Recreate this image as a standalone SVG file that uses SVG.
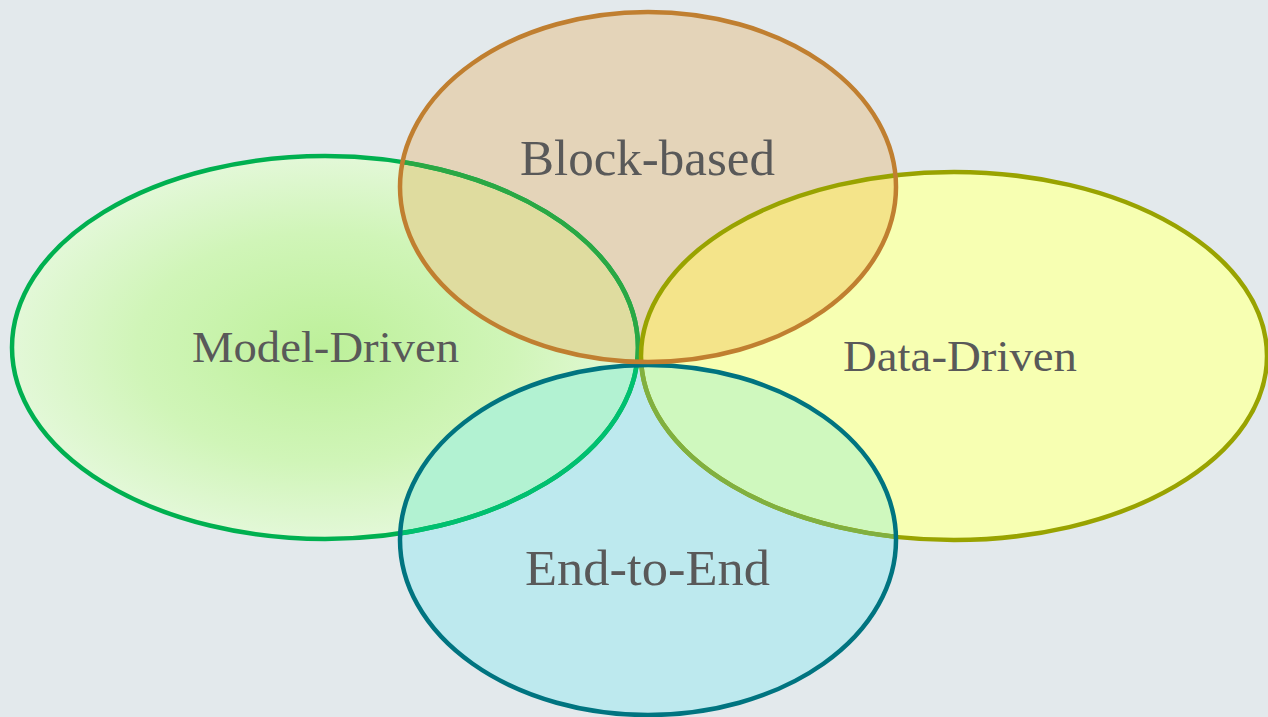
<svg xmlns="http://www.w3.org/2000/svg" xmlns:xlink="http://www.w3.org/1999/xlink" width="1268" height="717" viewBox="0 0 1268 717">
  <style>
    .lbl { font-family: "Liberation Serif", "Times New Roman", serif; fill: #595959; text-anchor: middle; }
    .big { font-size: 50px; }
    .small { font-size: 45px; }
    .ol { fill: none; stroke-width: 4.5; }
  </style>
  <defs>
    <radialGradient id="gModel" cx="0.5" cy="0.5" r="0.5">
      <stop offset="0" stop-color="#bdf09a"/>
      <stop offset="0.6" stop-color="#d0f5b8"/>
      <stop offset="1" stop-color="#e3f8d8"/>
    </radialGradient>
    <ellipse id="eModel" cx="325" cy="347.5" rx="313" ry="191.5"/>
    <ellipse id="eData" cx="954" cy="356" rx="313" ry="184"/>
    <ellipse id="eBlock" cx="648" cy="187" rx="248" ry="175"/>
    <ellipse id="eEnd" cx="648" cy="540" rx="248" ry="175"/>
    <clipPath id="cModel"><use xlink:href="#eModel"/></clipPath>
    <clipPath id="cData"><use xlink:href="#eData"/></clipPath>
    <clipPath id="cBlock"><use xlink:href="#eBlock"/></clipPath>
    <clipPath id="cEnd"><use xlink:href="#eEnd"/></clipPath>
  </defs>

  <rect x="0" y="0" width="1268" height="717" fill="#e3e9ec"/>

  <g id="node-model-driven">
    <use xlink:href="#eModel" fill="url(#gModel)"/>
    <text class="lbl small" x="325.5" y="362" textLength="267" lengthAdjust="spacingAndGlyphs">Model-Driven</text>
  </g>
  <g id="node-data-driven">
    <use xlink:href="#eData" fill="#f7ffb2"/>
    <text class="lbl small" x="960" y="371" textLength="234" lengthAdjust="spacingAndGlyphs">Data-Driven</text>
  </g>
  <g id="node-block-based">
    <use xlink:href="#eBlock" fill="#e4d4b9"/>
    <text class="lbl big" x="647.5" y="175" textLength="255" lengthAdjust="spacingAndGlyphs">Block-based</text>
  </g>
  <g id="node-end-to-end">
    <use xlink:href="#eEnd" fill="#bde9ee"/>
    <text class="lbl big" x="647.5" y="585" textLength="245" lengthAdjust="spacingAndGlyphs">End-to-End</text>
  </g>

  <g id="overlaps">
    <g clip-path="url(#cModel)"><use xlink:href="#eBlock" fill="#dfdc9f"/></g>
    <g clip-path="url(#cData)"><use xlink:href="#eBlock" fill="#f4e48a"/></g>
    <g clip-path="url(#cModel)"><use xlink:href="#eEnd" fill="#b2f2d2"/></g>
    <g clip-path="url(#cData)"><use xlink:href="#eEnd" fill="#cff8be"/></g>
  </g>

  <g id="outlines">
    <use xlink:href="#eModel" class="ol" stroke="#00b050"/>
    <g clip-path="url(#cBlock)"><use xlink:href="#eModel" class="ol" stroke="#2aa844"/></g>
    <g clip-path="url(#cEnd)"><use xlink:href="#eModel" class="ol" stroke="#00c070"/></g>
    <use xlink:href="#eData" class="ol" stroke="#99a300"/>
    <g clip-path="url(#cEnd)"><use xlink:href="#eData" class="ol" stroke="#80b040"/></g>
    <use xlink:href="#eEnd" class="ol" stroke="#007480"/>
    <use xlink:href="#eBlock" class="ol" stroke="#c07f30"/>
  </g>
</svg>
